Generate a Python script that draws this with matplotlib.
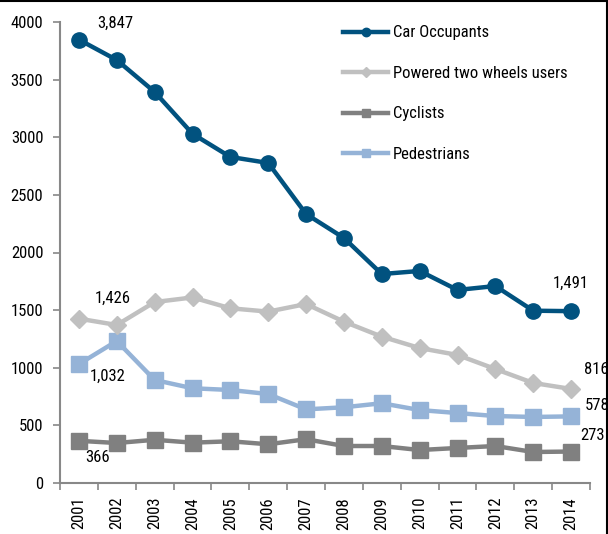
import matplotlib
matplotlib.use("Agg")
import matplotlib.pyplot as plt
from matplotlib.lines import Line2D
from matplotlib import font_manager

years = ["2001", "2002", "2003", "2004", "2005", "2006", "2007",
         "2008", "2009", "2010", "2011", "2012", "2013", "2014"]
car_occupants = [3847, 3670, 3393, 3030, 2829, 2777, 2334, 2126, 1813, 1840, 1675, 1709, 1495, 1491]
powered_two_wheels = [1426, 1371, 1570, 1610, 1516, 1487, 1553, 1400, 1270, 1171, 1111, 989, 868, 816]
cyclists = [366, 347, 375, 350, 362, 336, 380, 321, 321, 286, 304, 321, 269, 273]
pedestrians = [1032, 1232, 894, 822, 807, 772, 639, 657, 692, 633, 607, 581, 573, 578]

# pick a narrow font if one is installed
ttf = font_manager.fontManager.ttflist
names = {f.name for f in ttf}
fs = 12
chosen = None
for cand in ["Liberation Sans Narrow", "Arial Narrow", "Roboto Condensed", "Open Sans Condensed"]:
    if cand in names:
        chosen = cand
        break
if chosen:
    plt.rcParams['font.family'] = [chosen, "DejaVu Sans"]
else:
    plt.rcParams['font.family'] = ["Liberation Sans", "DejaVu Sans"]
    fs = 11

fig = plt.figure(figsize=(6.08, 5.34), dpi=100)
ax = fig.add_axes([60/608, 51/534, 530/608, 461/534])

x = list(range(len(years)))
c_car = "#01527F"
c_ptw = "#C0C0C0"
c_cyc = "#808080"
c_ped = "#95B3D7"

ax.plot(x, car_occupants, color=c_car, lw=3.2, marker="o", ms=11, label="Car Occupants", zorder=5)
ax.plot(x, powered_two_wheels, color=c_ptw, lw=3.2, marker="D", ms=9.5, label="Powered two wheels users", zorder=4)
ax.plot(x, cyclists, color=c_cyc, lw=3.2, marker="s", ms=11, label="Cyclists", zorder=3)
ax.plot(x, pedestrians, color=c_ped, lw=3.2, marker="s", ms=11.5, label="Pedestrians", zorder=3)

ax.set_xlim(-0.5, len(years) - 0.5)
ax.set_ylim(0, 4000)
ax.set_yticks(range(0, 4001, 500))
ax.set_xticks(x)
ax.set_xticklabels(years, rotation=90)
ax.set_xticks([i - 0.5 for i in range(len(years) + 1)], minor=True)
ax.tick_params(axis="x", which="major", length=0, pad=10, labelsize=fs)
ax.tick_params(axis="x", which="minor", length=5, color="#888888", width=1.2, direction="out")
ax.tick_params(axis="y", length=5, color="#888888", width=1.2, labelsize=fs, pad=7)
for s in ["top", "right"]:
    ax.spines[s].set_visible(False)
for s in ["left", "bottom"]:
    ax.spines[s].set_color("#888888")
    ax.spines[s].set_linewidth(1.5)

def lab(text, xi, yv, dx, dy):
    ax.annotate(text, (xi, yv), xytext=(dx, dy), textcoords="offset pixels",
                ha="center", va="center", fontsize=fs, color="black", zorder=10,
                annotation_clip=False)

lab("3,847", 0, car_occupants[0], 36, 16)
lab("1,426", 0, powered_two_wheels[0], 34, 20)
lab("1,032", 0, pedestrians[0], 29, -12)
lab("366", 0, cyclists[0], 19, -17)
lab("1,491", 13, car_occupants[-1], 0, 28)
lab("816", 13, powered_two_wheels[-1], 25, 19)
lab("578", 13, pedestrians[-1], 26, 11)
lab("273", 13, cyclists[-1], 21, 16)

leg = ax.legend(loc="upper left", bbox_to_anchor=(268/530, 1.025), frameon=False,
                fontsize=fs, markerscale=0.55, handlelength=2.7, handletextpad=0.3,
                labelspacing=1.53)

fig.add_artist(Line2D([0, 1], [1 - 1/534, 1 - 1/534], color="black", lw=1.5, transform=fig.transFigure))
fig.add_artist(Line2D([1 - 1/608, 1 - 1/608], [0, 1], color="black", lw=1.5, transform=fig.transFigure))

fig.savefig("out.png", dpi=100)
